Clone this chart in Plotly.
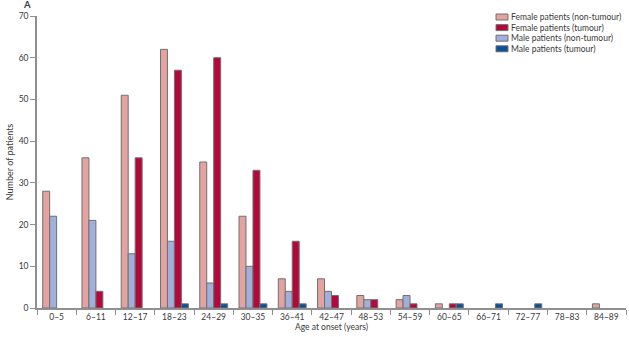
import plotly.graph_objects as go

# Age-at-onset bins (years)
age_groups = ["0–5", "6–11", "12–17", "18–23", "24–29", "30–35", "36–41", "42–47",
              "48–53", "54–59", "60–65", "66–71", "72–77", "78–83", "84–89"]

# Patient counts per bin
female_non_tumour = [28, 36, 51, 62, 35, 22, 7, 7, 3, 2, 1, 0, 0, 0, 1]
male_non_tumour = [22, 21, 13, 16, 6, 10, 4, 4, 2, 3, 0, 0, 0, 0, 0]
female_tumour = [0, 4, 36, 57, 60, 33, 16, 3, 2, 1, 1, 0, 0, 0, 0]
male_tumour = [0, 0, 0, 1, 1, 1, 1, 0, 0, 0, 1, 1, 1, 0, 0]

# Bars are drawn in this order within each age group
series = [
    ("Female patients (non-tumour)", female_non_tumour, "#E3A3A0"),
    ("Male patients (non-tumour)", male_non_tumour, "#A0B0DA"),
    ("Female patients (tumour)", female_tumour, "#B4083A"),
    ("Male patients (tumour)", male_tumour, "#0C5198"),
]
# ...while the key lists them in this order
legend_order = ["Female patients (non-tumour)", "Female patients (tumour)",
                "Male patients (non-tumour)", "Male patients (tumour)"]

FONT = "Lato"
TXT = "#3a3a3a"
AXIS = "#8f8f8f"
OUTLINE = "#707070"

fig = go.Figure()
for name, vals, col in series:
    fig.add_trace(go.Bar(
        x=age_groups, y=vals, name=name, showlegend=False,
        marker=dict(color=col,
                    line=dict(color=OUTLINE, width=[0 if v == 0 else 1 for v in vals])),
    ))

# Compact key in the top-right corner (positions in pixels, converted to paper units)
W, H = 629, 337
L, R, T, B = 37, 3, 16, 29
PW, PH = W - L - R, H - T - B


def px_x(x):
    return (x - L) / PW


def px_y(y):
    return 1 - (y - T) / PH


colors = {name: col for name, _, col in series}
shapes, annotations = [], []
x0_px, y0_px, row_px = 496, 17, 10.6
for i, name in enumerate(legend_order):
    yc = y0_px + i * row_px
    shapes.append(dict(
        type="rect", xref="paper", yref="paper",
        x0=px_x(x0_px), x1=px_x(x0_px + 12),
        y0=px_y(yc + 3), y1=px_y(yc - 3),
        fillcolor=colors[name], line=dict(color=OUTLINE, width=1),
    ))
    annotations.append(dict(
        text=name, xref="paper", yref="paper",
        x=px_x(x0_px + 13), y=px_y(yc),
        xanchor="left", yanchor="middle", showarrow=False,
        font=dict(family=FONT, size=8.5, color=TXT),
    ))

# Panel letter
annotations.append(dict(
    text="<b>A</b>", x=px_x(26.5), y=px_y(11.3), xref="paper", yref="paper",
    xanchor="center", yanchor="bottom", showarrow=False, borderpad=0,
    font=dict(family=FONT, size=9.5, color=TXT),
))

fig.update_layout(
    width=W, height=H,
    margin=dict(l=L, r=R, t=T, b=B),
    paper_bgcolor="white", plot_bgcolor="white",
    barmode="group", bargap=0.29, bargroupgap=0,
    font=dict(family=FONT, size=8.5, color=TXT),
    showlegend=False,
    xaxis=dict(
        type="category", tickson="boundaries",
        showline=True, linecolor=AXIS, linewidth=1.5,
        ticks="outside", ticklen=5, tickcolor=AXIS, tickwidth=1,
        showgrid=False, tickfont=dict(family=FONT, size=8.5, color=TXT),
        title=dict(text="Age at onset (years)", font=dict(family=FONT, size=8.5, color=TXT),
                   standoff=3),
    ),
    yaxis=dict(
        range=[0, 70], dtick=10,
        showline=True, linecolor=AXIS, linewidth=1.5,
        ticks="outside", ticklen=5, tickcolor=AXIS, tickwidth=1,
        showgrid=False, zeroline=False, tickfont=dict(family=FONT, size=8.5, color=TXT),
        title=dict(text="Number of patients", font=dict(family=FONT, size=9, color=TXT),
                   standoff=4),
    ),
    shapes=shapes,
    annotations=annotations,
)

fig.write_html("out.html")
